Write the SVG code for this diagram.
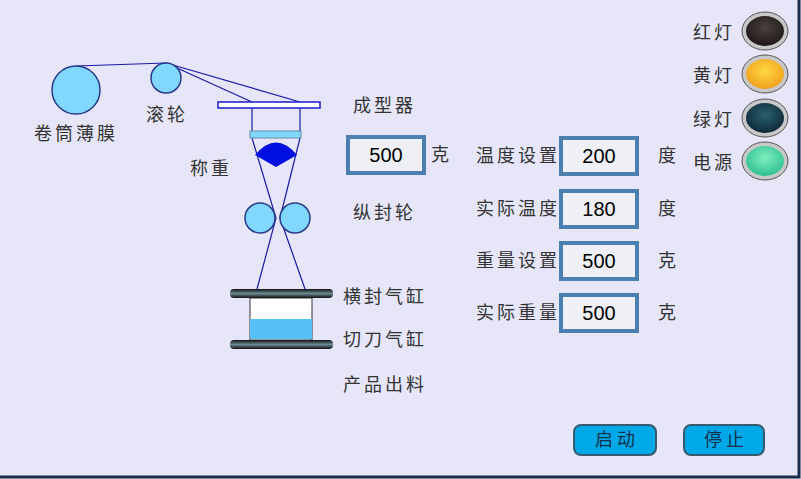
<svg xmlns="http://www.w3.org/2000/svg" width="801" height="479" viewBox="0 0 801 479">
<defs>
<style>
.t{font-family:"Noto Sans CJK SC","Liberation Sans",sans-serif;font-size:18px;fill:#333;letter-spacing:3px}
.n{font-family:"Liberation Sans",Arial,sans-serif;font-size:20px;fill:#000;text-anchor:middle}
.bx{fill:#eef0f6;stroke:#4a7fb0;stroke-width:4}
.ln{stroke:#1a1aa8;stroke-width:1.2;fill:none}
.roll{fill:#80d8ff;stroke:#2a3a8a;stroke-width:1.5}
.btn{fill:#00a8e8;stroke:#3a5a70;stroke-width:2}
.bt{font-family:"Noto Sans CJK SC",sans-serif;font-size:18px;fill:#10304a;text-anchor:middle;letter-spacing:4px}
</style>
<radialGradient id="gr" cx="0.5" cy="0.4" r="0.6"><stop offset="0" stop-color="#4a4040"/><stop offset="1" stop-color="#201818"/></radialGradient>
<radialGradient id="gy" cx="0.5" cy="0.4" r="0.6"><stop offset="0" stop-color="#ffd840"/><stop offset="1" stop-color="#f0a020"/></radialGradient>
<radialGradient id="gg" cx="0.5" cy="0.4" r="0.6"><stop offset="0" stop-color="#2a6070"/><stop offset="1" stop-color="#0e2a38"/></radialGradient>
<radialGradient id="gm" cx="0.5" cy="0.4" r="0.6"><stop offset="0" stop-color="#80f0c0"/><stop offset="1" stop-color="#30c090"/></radialGradient>
<linearGradient id="cyl" x1="0" y1="0" x2="0" y2="1"><stop offset="0" stop-color="#111"/><stop offset="0.5" stop-color="#6a8a90"/><stop offset="1" stop-color="#111"/></linearGradient>
</defs>
<rect width="801" height="479" fill="#e6e6f8"/>
<path d="M799 0V477H0" stroke="#1a2a4a" stroke-width="3" fill="none"/>
<g id="connectors">
<path class="ln" d="M76 66L166 63M166 63L252 102M166 63L300 102M252 108V133M300 108V133M252 138L276 218L257 289M300 138L280 218L305 289"/>
</g>
<g id="roll-film"><circle class="roll" cx="76" cy="90" r="24"/><text class="t" x="34" y="140">卷筒薄膜</text></g>
<g id="roller"><circle class="roll" cx="166" cy="78" r="15"/><text class="t" x="146" y="121">滚轮</text></g>
<g id="former"><rect x="218" y="102" width="102" height="6" fill="#fff" stroke="#1a1ad0" stroke-width="1.5"/><text class="t" x="353" y="112">成型器</text></g>
<g id="weigh"><rect x="250" y="131" width="51" height="7" fill="#80d8ff" stroke="#6a8aa0"/>
<path d="M255 155Q276 130 297 155L276 167Z" fill="#0010e0"/><text class="t" x="190" y="175">称重</text>
<rect class="bx" x="348" y="137" width="76" height="36"/><text class="n" x="386" y="162">500</text><text class="t" x="431" y="161">克</text></g>
<g id="seal-rollers"><circle class="roll" cx="260" cy="218" r="15"/><circle class="roll" cx="295" cy="218" r="15"/><text class="t" x="353" y="219">纵封轮</text></g>
<g id="cylinders">
<rect x="250" y="298" width="62" height="42" fill="#fff" stroke="#333"/><rect x="250" y="319" width="62" height="20" fill="#58c0f8"/>
<rect x="230" y="289" width="103" height="9" rx="4" fill="url(#cyl)"/><rect x="230" y="340" width="103" height="9" rx="4" fill="url(#cyl)"/>
<text class="t" x="343" y="303">横封气缸</text><text class="t" x="343" y="346">切刀气缸</text><text class="t" x="343" y="391">产品出料</text></g>
<g id="params">
<text class="t" x="476" y="162">温度设置</text><rect class="bx" x="561" y="138" width="76" height="36"/><text class="n" x="599" y="163">200</text><text class="t" x="658" y="162">度</text>
<text class="t" x="476" y="215">实际温度</text><rect class="bx" x="561" y="191" width="76" height="36"/><text class="n" x="599" y="216">180</text><text class="t" x="658" y="215">度</text>
<text class="t" x="476" y="267">重量设置</text><rect class="bx" x="561" y="243" width="76" height="36"/><text class="n" x="599" y="268">500</text><text class="t" x="658" y="267">克</text>
<text class="t" x="476" y="319">实际重量</text><rect class="bx" x="561" y="295" width="76" height="36"/><text class="n" x="599" y="320">500</text><text class="t" x="658" y="319">克</text></g>
<g id="lights">
<text class="t" x="693" y="39">红灯</text><ellipse cx="765" cy="31" rx="23" ry="19" fill="#c8c8c8" stroke="#555"/><ellipse cx="765" cy="31" rx="19" ry="15" fill="url(#gr)"/>
<text class="t" x="693" y="82">黄灯</text><ellipse cx="765" cy="74" rx="23" ry="19" fill="#c8c8c8" stroke="#555"/><ellipse cx="765" cy="74" rx="19" ry="15" fill="url(#gy)"/>
<text class="t" x="693" y="126">绿灯</text><ellipse cx="765" cy="118" rx="23" ry="19" fill="#c8c8c8" stroke="#555"/><ellipse cx="765" cy="118" rx="19" ry="15" fill="url(#gg)"/>
<text class="t" x="693" y="169">电源</text><ellipse cx="765" cy="161" rx="23" ry="19" fill="#c8c8c8" stroke="#555"/><ellipse cx="765" cy="161" rx="19" ry="15" fill="url(#gm)"/></g>
<g id="btn-start"><rect class="btn" x="574" y="425" width="82" height="30" rx="7"/><text class="bt" x="617" y="446">启动</text></g>
<g id="btn-stop"><rect class="btn" x="684" y="425" width="80" height="30" rx="7"/><text class="bt" x="726" y="446">停止</text></g>
</svg>
